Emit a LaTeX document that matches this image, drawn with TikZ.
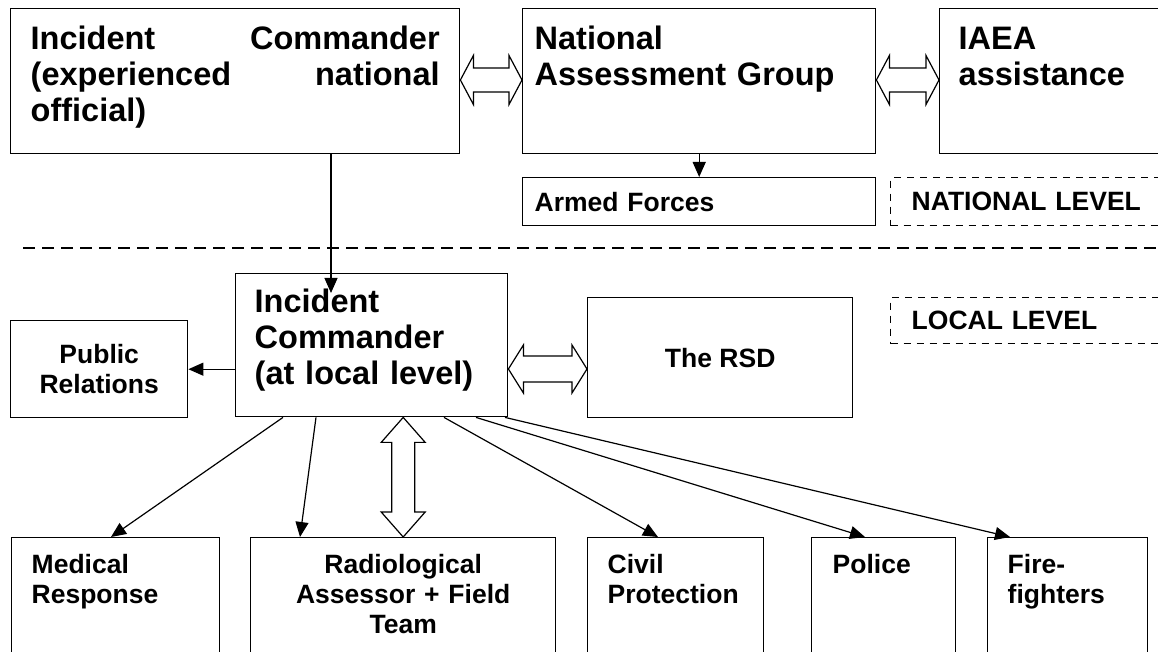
\documentclass[tikz,border=0pt]{standalone}
\usepackage{fontspec}
\setmainfont{Liberation Sans}
\usetikzlibrary{arrows.meta,calc}

\newcommand{\spread}{\hskip 0pt plus 1fill\relax}
% fat double arrows: #1 tip, #2 tip, #3 head length, #4 head half width, #5 shaft half width
\newcommand{\fatarrowh}[5]{%
  \draw[fat] (#1) -- ++(#3,-#4) -- ++(0,#4-#5) -- ($(#2)+(-#3,-#5)$) -- ++(0,#5-#4)
    -- (#2) -- ++(-#3,#4) -- ++(0,#5-#4) -- ($(#1)+(#3,#5)$) -- ++(0,#4-#5) -- cycle;}
\newcommand{\fatarrowv}[5]{%
  \draw[fat] (#1) -- ++(#4,#3) -- ++(#5-#4,0) -- ($(#2)+(#5,-#3)$) -- ++(#4-#5,0)
    -- (#2) -- ++(-#4,-#3) -- ++(#4-#5,0) -- ($(#1)+(-#5,#3)$) -- ++(#5-#4,0) -- cycle;}

\tikzset{
  box/.style={draw, line width=0.7pt, anchor=north west, inner ysep=0pt},
  lvl/.style={box, dash pattern=on 3.5pt off 3pt},
  big/.style={font=\fontsize{16.25}{18}\selectfont\bfseries},
  small/.style={font=\fontsize{13.25}{15}\selectfont\bfseries},
  conn/.style={line width=0.6pt, -{Triangle[length=7.5pt,width=6.5pt]}},
  fat/.style={line width=0.6pt, fill=white, line join=miter},
  sep/.style={line width=0.7pt, dash pattern=on 6pt off 3.5pt},
}

\begin{document}
\begin{tikzpicture}[x=0.5pt,y=-0.5pt]
\useasboundingbox (0,0) rectangle (1158,652);

% national level
\node[box, big, align=left, minimum width=224.5pt, text width=204.5pt, inner xsep=10pt,
  text height=20.5pt, text depth=52pt] (icn) at (10,8)
  {Incident\spread Commander\\(experienced\spread national\\official)};
\node[box, big, align=left, minimum width=176.5pt, text width=164.5pt, inner xsep=6pt,
  text height=20.5pt, text depth=52pt] (nag) at (522,8) {National\\Assessment Group};
\node[box, big, align=left, minimum width=115.5pt, text width=96.5pt, inner xsep=9.5pt,
  text height=20.5pt, text depth=52pt] (iaea) at (939,8) {IAEA\\assistance};
\node[box, small, align=left, minimum width=176.5pt, minimum height=24pt,
  text width=164.5pt, inner xsep=6pt] (armed) at (522,177) {Armed Forces};
\node[lvl, small, align=left, minimum width=140pt, minimum height=24pt,
  text width=119pt, inner xsep=10.5pt] (natl) at (890,177) {NATIONAL LEVEL};

\fatarrowh{icn.east |- 0,80}{nag.west |- 0,80}{13}{24.5}{12}
\fatarrowh{nag.east |- 0,80}{iaea.west |- 0,80}{13}{24.5}{12}
\draw[conn] (nag.south) -- (armed.north);

\draw[sep] (23,248) -- (1170,248);

% local level
\node[box, big, align=left, minimum width=136pt, text width=117pt, inner xsep=9.5pt,
  text height=19.5pt, text depth=52pt] (icl) at (235,273)
  {Incident\\Commander\\(at local level)};
\node[box, small, align=center, minimum width=88.5pt, minimum height=48.5pt,
  text width=80pt, inner xsep=4.25pt] (pr) at (10,320) {Public\\Relations};
\node[box, small, align=center, minimum width=132.5pt, minimum height=60pt] (rsd)
  at (587,297) {The RSD};
\node[lvl, small, align=left, minimum width=140pt, minimum height=23pt,
  text width=119pt, inner xsep=10.5pt] (locl) at (890,297) {LOCAL LEVEL};

\coordinate (drop) at (331,293);
\draw[conn] (icn.south -| drop) -- (drop);
\draw[conn] (icl.west |- pr.east) -- (pr.east);
\fatarrowh{icl.east |- 0,369}{rsd.west |- 0,369}{15}{24}{13}

% responders
\node[box, small, align=left, minimum width=104pt, text width=84pt, inner xsep=10pt,
  text height=18pt, text depth=48.5pt] (med) at (11,537) {Medical\\Response};
\node[box, small, align=center, minimum width=152.5pt, text width=140pt, inner xsep=6.25pt,
  text height=18pt, text depth=48.5pt] (rad) at (250,537)
  {Radiological\\Assessor + Field\\Team};
\node[box, small, align=left, minimum width=88pt, text width=68pt, inner xsep=10pt,
  text height=18pt, text depth=48.5pt] (civ) at (587,537) {Civil\\Protection};
\node[box, small, align=left, minimum width=72pt, text width=51pt, inner xsep=10.5pt,
  text height=18pt, text depth=48.5pt] (pol) at (811,537) {Police};
\node[box, small, align=left, minimum width=80pt, text width=60pt, inner xsep=10pt,
  text height=18pt, text depth=48.5pt] (fire) at (987,537) {Fire-\\fighters};

\draw[conn] ($(icl.south west)+(48,0)$) -- ($(med.north west)+(100,0)$);
\draw[conn] ($(icl.south west)+(81,0)$) -- ($(rad.north west)+(50,0)$);
\fatarrowv{icl.south -| rad.north}{rad.north}{25}{22}{11.5}
\draw[conn] ($(icl.south west)+(209,0)$) -- ($(civ.north west)+(71,0)$);
\draw[conn] ($(icl.south west)+(241,0)$) -- ($(pol.north west)+(54,0)$);
\draw[conn] ($(icl.south west)+(270,0)$) -- ($(fire.north west)+(23,0)$);
\end{tikzpicture}
\end{document}
